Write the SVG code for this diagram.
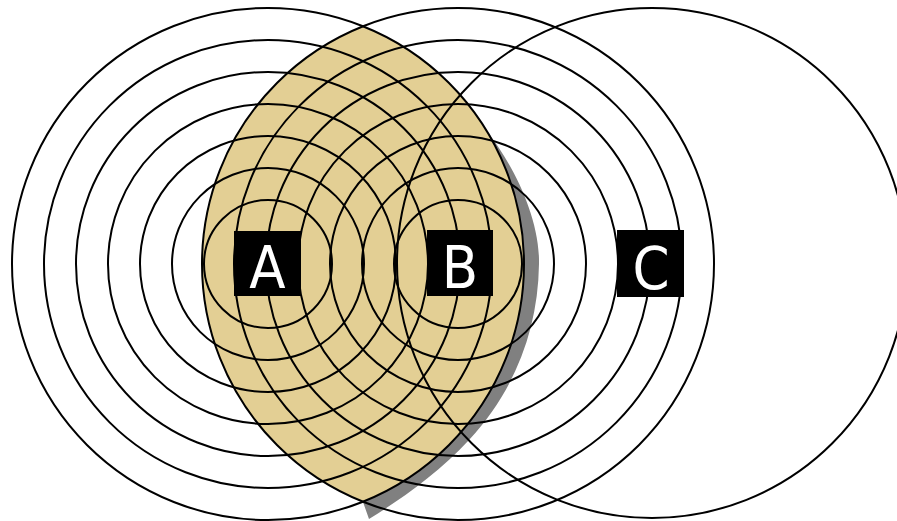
<svg xmlns="http://www.w3.org/2000/svg" width="897" height="521" viewBox="0 0 897 521">
<style>
  .ring { fill: none; stroke: #000; stroke-width: 2; }
  .box { fill: #000; }
  .lbl { fill: #fff; font-family: "DejaVu Sans Condensed", "DejaVu Sans", sans-serif; font-size: 59px; text-anchor: middle; }
</style>
<rect x="0" y="0" width="897" height="521" fill="#fff"/>
<g id="shadow">
  <path d="M 486 130 C 510 160, 540 215, 539 264 C 538 330, 515 390, 469 440 C 440 472, 400 500, 369 519 L 363 502 Z" fill="#808080"/>
</g>
<g id="lens">
  <path d="M 363 26.28 A 256 256 0 0 1 363 501.72 A 256 256 0 0 1 363 26.28 Z" fill="#E3CF94"/>
</g>
<g id="connectors"></g>
<g id="node-A">
  <circle class="ring" cx="268" cy="264" r="64"/>
  <circle class="ring" cx="268" cy="264" r="96"/>
  <circle class="ring" cx="268" cy="264" r="128"/>
  <circle class="ring" cx="268" cy="264" r="160"/>
  <circle class="ring" cx="268" cy="264" r="192"/>
  <circle class="ring" cx="268" cy="264" r="224"/>
  <circle class="ring" cx="268" cy="264" r="256"/>
</g>
<g id="node-B">
  <circle class="ring" cx="458" cy="264" r="64"/>
  <circle class="ring" cx="458" cy="264" r="96"/>
  <circle class="ring" cx="458" cy="264" r="128"/>
  <circle class="ring" cx="458" cy="264" r="160"/>
  <circle class="ring" cx="458" cy="264" r="192"/>
  <circle class="ring" cx="458" cy="264" r="224"/>
  <circle class="ring" cx="458" cy="264" r="256"/>
</g>
<g id="node-C">
  <circle class="ring" cx="652" cy="263" r="255"/>
</g>
<g id="label-A">
  <rect class="box" x="234" y="231" width="67" height="65"/>
  <text class="lbl" x="267.5" y="288">A</text>
</g>
<g id="label-B">
  <rect class="box" x="427" y="230" width="66" height="66"/>
  <text class="lbl" x="460" y="288">B</text>
</g>
<g id="label-C">
  <rect class="box" x="617" y="230" width="67" height="67"/>
  <text class="lbl" x="651" y="289">C</text>
</g>
</svg>
